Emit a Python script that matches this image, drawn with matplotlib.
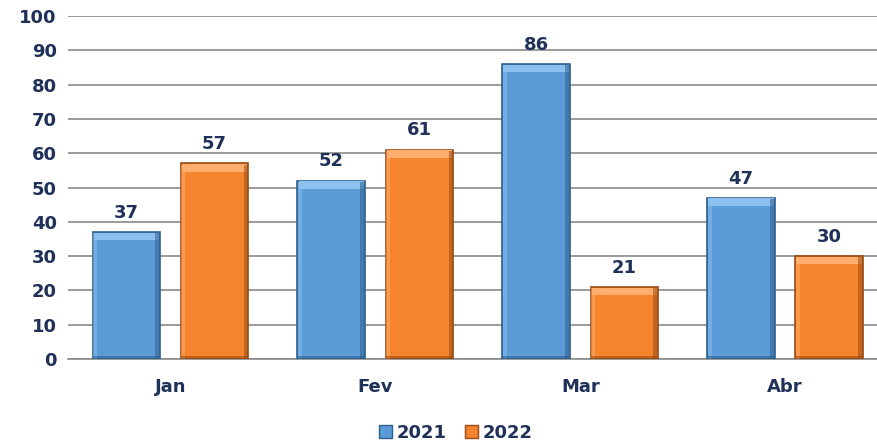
import numpy as np
import matplotlib.pyplot as plt

# ── data ─────────────────────────────────────────────
months = ['Jan', 'Fev', 'Mar', 'Abr']
vals_2021 = [37, 52, 86, 47]
vals_2022 = [57, 61, 21, 30]
series = ['2021', '2022']

BLUE = '#5b9bd8'
BLUE_LIGHT = '#8cc0ee'
BLUE_DARK = '#2e5f8e'
ORANGE = '#f5842f'
ORANGE_LIGHT = '#ffae6e'
ORANGE_DARK = '#9a4a12'
TXT = '#1f3158'

fig = plt.figure(figsize=(8.77, 4.44), dpi=100)
ax = fig.add_axes([0.0775, 0.1914, 0.93, 0.7726])

x = np.arange(len(months))
w = 0.33
off = 0.215


def bevel_bars(xs, vals, base, light, dark):
    # main body
    ax.bar(xs, vals, w, color=base, edgecolor=dark, linewidth=1.2, zorder=3)
    # top highlight strip
    ax.bar(xs, [2.2] * len(vals), w * 0.97, bottom=[v - 2.4 for v in vals],
           color=light, linewidth=0, zorder=4)
    # side shading
    for xi, v in zip(xs, vals):
        ax.bar(xi + w / 2 - 0.012, v - 0.3, 0.022, color=dark, alpha=0.55,
               linewidth=0, zorder=4)
        ax.bar(xi - w / 2 + 0.012, v - 0.3, 0.022, color=light, alpha=0.5,
               linewidth=0, zorder=4)
    ax.bar(xs, [1.0] * len(vals), w, color=dark, alpha=0.6, linewidth=0, zorder=4)


bevel_bars(x - off, vals_2021, BLUE, BLUE_LIGHT, BLUE_DARK)
bevel_bars(x + off, vals_2022, ORANGE, ORANGE_LIGHT, ORANGE_DARK)

for xi, v in zip(x - off, vals_2021):
    ax.text(xi, v + 3, str(v), ha='center', va='bottom', fontsize=13,
            color=TXT, fontweight='semibold')
for xi, v in zip(x + off, vals_2022):
    ax.text(xi, v + 3, str(v), ha='center', va='bottom', fontsize=13,
            color=TXT, fontweight='semibold')

ax.set_ylim(0, 100)
ax.set_xlim(-0.5, 3.48)
ax.set_yticks(range(0, 101, 10))
ax.yaxis.grid(True, color='#8a8a8a', linewidth=1.2, zorder=0)
ax.set_axisbelow(True)
ax.set_xticks(x)
ax.set_xticklabels(months)
ax.tick_params(axis='both', length=0, labelsize=13, colors=TXT)
ax.tick_params(axis='y', pad=8)
ax.tick_params(axis='x', pad=14)
for lab in ax.get_yticklabels() + ax.get_xticklabels():
    lab.set_fontweight('semibold')
for s in ['top', 'right', 'left']:
    ax.spines[s].set_visible(False)
ax.spines['bottom'].set_color('#8a8a8a')
ax.spines['bottom'].set_linewidth(1.2)

handles = [plt.Rectangle((0, 0), 1, 1, color=BLUE, ec=BLUE_DARK),
           plt.Rectangle((0, 0), 1, 1, color=ORANGE, ec=ORANGE_DARK)]
leg = fig.legend(handles, series, loc='center', bbox_to_anchor=(0.52, 0.025),
                 ncol=2, frameon=False, fontsize=13, handlelength=0.7,
                 handleheight=0.7, handletextpad=0.3, columnspacing=1.0)
for t in leg.get_texts():
    t.set_color(TXT)
    t.set_fontweight('semibold')

fig.savefig('out.png', dpi=100)
